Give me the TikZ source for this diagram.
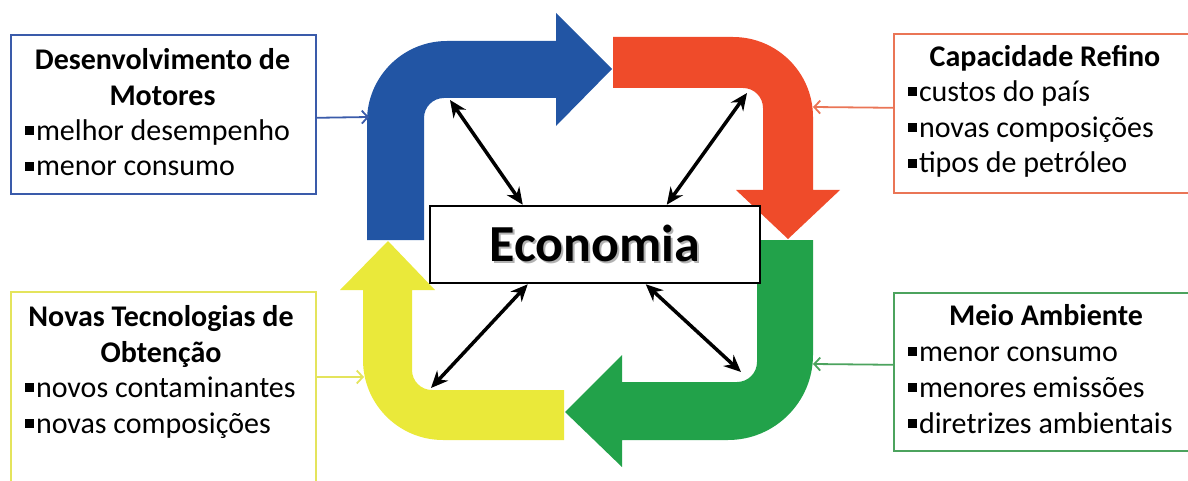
\documentclass[tikz,border=0pt]{standalone}
\usepackage{fontspec}
\setmainfont{Carlito}
\usepackage{tikz}
\usetikzlibrary{arrows, arrows.meta, positioning}
\definecolor{cblue}{HTML}{2255A4}
\definecolor{cred}{HTML}{EF4B2A}
\definecolor{cgreen}{HTML}{22A24A}
\definecolor{cyellow}{HTML}{EAE93A}
\definecolor{lblue}{HTML}{3A5BAA}
\definecolor{lred}{HTML}{EA7556}
\definecolor{lgreen}{HTML}{4CA35E}
\definecolor{lyellow}{HTML}{E4E45C}
\tikzstyle{infobox}=[draw, line width=1.6pt, inner sep=0pt, anchor=north west]
\tikzstyle{title}=[font=\fontsize{30}{35.8}\selectfont\bfseries, align=center, anchor=base, inner sep=0pt]
\tikzstyle{items}=[font=\fontsize{30}{35.8}\selectfont, align=left, anchor=base west, inner sep=0pt]
\tikzstyle{feed}=[-{Straight Barb[length=6pt, width=13pt]}, line width=1.8pt]
\tikzstyle{link}=[{Stealth[length=17pt, width=15pt]}-{Stealth[length=17pt, width=15pt]}, line width=3.5pt]
\newcommand{\bul}{\rule[0.18em]{0.3em}{0.3em}\hspace{0.06em}}

\begin{document}
\begin{tikzpicture}[x=1pt, y=1pt, >=stealth']
  \clip (0,0) rectangle (1188,480);

  % the four bent arrows
  \fill[cblue] (367,240) -- (367,359) arc (180:90:80) -- (556,439) -- (556,467)
        -- (612,411) -- (556,354) -- (556,382) -- (444,382) arc (90:180:20)
        -- (424,240) -- cycle;
  \fill[cred] (613,443) -- (733,443) arc (90:0:80) -- (813,290) -- (840,290)
        -- (788,241) -- (736,290) -- (763,290) -- (763,372) arc (0:90:20)
        -- (613,392) -- cycle;
  \fill[cgreen] (813,240) -- (813,125) arc (0:-90:85) -- (622,40) -- (622,13)
        -- (565,68) -- (622,125) -- (622,98) -- (737,98) arc (-90:0:20)
        -- (757,240) -- cycle;
  \fill[cyellow] (564,40) -- (443,40) arc (270:180:80) -- (363,190) -- (340,190)
        -- (388,239) -- (435,190) -- (412,190) -- (412,110) arc (180:270:20)
        -- (564,90) -- cycle;

  % centre
  \node[draw, line width=2.5pt, fill=white, inner sep=0pt,
        minimum width=330pt, minimum height=77pt] (eco) at (595,235.5) {};
  \node[font=\fontsize{52}{60}\selectfont\bfseries, text=black!30, anchor=base,
        inner sep=0pt] (ecoshadow) at (597,217) {Economia};
  \node[font=\fontsize{52}{60}\selectfont\bfseries, anchor=base,
        inner sep=0pt] (ecotext) at (595,219) {Economia};

  \coordinate (bc) at (450,380);
  \coordinate (rc) at (747,387);
  \coordinate (yc) at (431,92);
  \coordinate (gc) at (741,108);
  \draw[link] (bc) -- ([xshift=94pt]eco.north west);
  \draw[link] (rc) -- ([xshift=238pt]eco.north west);
  \draw[link] (yc) -- ([xshift=99pt]eco.south west);
  \draw[link] (gc) -- ([xshift=217pt]eco.south west);

  % side boxes
  \node[infobox, draw=lblue, minimum width=305pt, minimum height=159pt] (motores) at (10,446) {};
  \node[title] (motorest) at (162.5,374.5) {Desenvolvimento de\\Motores};
  \node[items] (motoresi) at (25,304) {\bul melhor desempenho\\\bul menor consumo};

  \node[infobox, draw=lred, minimum width=307pt, minimum height=159pt] (refino) at (893,447) {};
  \node[title] (refinot) at (1045,413) {Capacidade Refino};
  \node[items] (refinoi) at (908,307) {\bul custos do país\\\bul novas composições\\\bul tipos de petróleo};

  \node[infobox, draw=lyellow, minimum width=305pt, minimum height=200pt] (obtencao) at (10,189) {};
  \node[title] (obtencaot) at (161,118) {Novas Tecnologias de\\Obtenção};
  \node[items] (obtencaoi) at (25,47) {\bul novos contaminantes\\\bul novas composições};

  \node[infobox, draw=lgreen, minimum width=307pt, minimum height=158pt] (ambiente) at (893,188) {};
  \node[title] (ambientet) at (1046,155) {Meio Ambiente};
  \node[items] (ambientei) at (908,47) {\bul menor consumo\\\bul menores emissões\\\bul diretrizes ambientais};

  % feeds into the cycle
  \coordinate (bin) at (369,363);
  \coordinate (rin) at (813,373);
  \coordinate (yin) at (364,103);
  \coordinate (gin) at (813,116);
  \draw[feed, draw=lblue] ([yshift=-3.5pt]motores.east) -- (bin);
  \draw[feed, draw=lred] ([yshift=5.5pt]refino.west) -- (rin);
  \draw[feed, draw=lyellow] ([yshift=-86pt]obtencao.north east) -- (yin);
  \draw[feed, draw=lgreen] ([yshift=7pt]ambiente.west) -- (gin);
\end{tikzpicture}
\end{document}
